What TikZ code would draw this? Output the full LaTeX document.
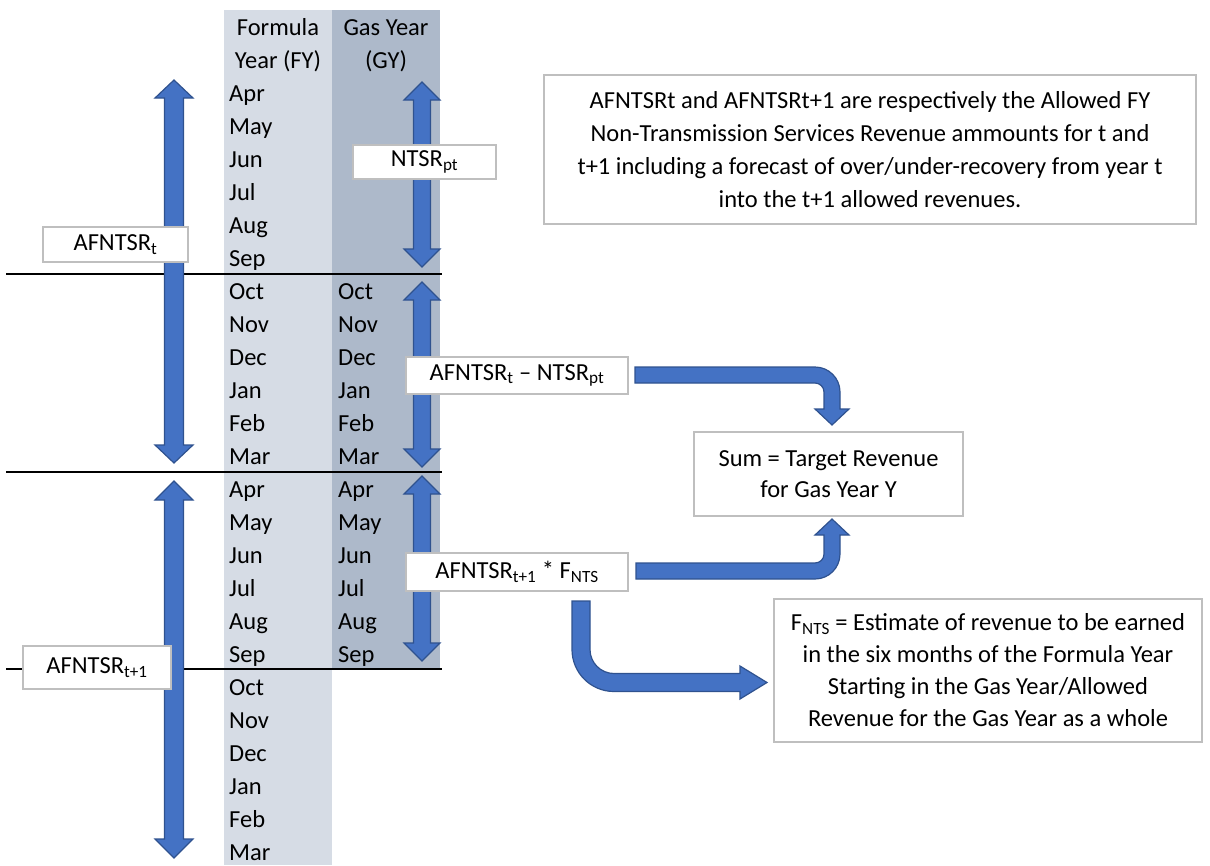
\documentclass[tikz,border=0pt]{standalone}
\usepackage{fontspec}
\setmainfont{Carlito}
\definecolor{fyc}{HTML}{D6DCE5}
\definecolor{gyc}{HTML}{ADB9CA}
\definecolor{arrowblue}{HTML}{4472C4}
\definecolor{arrowedge}{HTML}{2F528F}
\definecolor{boxgray}{HTML}{BFBFBF}
\tikzset{
  lbl/.style={font=\fontsize{24.5}{30}\selectfont, inner sep=0pt},
  month/.style={lbl, anchor=base west},
  box/.style={draw=boxgray, line width=1.5pt, fill=white, inner sep=0pt, align=center, font=\fontsize{24.5}{30}\selectfont},
  blockarrow/.style={fill=arrowblue, draw=arrowedge, line width=1.2pt, line join=miter},
  sepline/.style={line width=2pt, black}
}
\newcommand\vdarrow[6]{% x, top, bottom, shaft half, head half, head length
  \path[blockarrow] ({#1-#4},{#2+#6}) -- ({#1-#5},{#2+#6}) -- (#1,#2) -- ({#1+#5},{#2+#6}) -- ({#1+#4},{#2+#6})
    -- ({#1+#4},{#3-#6}) -- ({#1+#5},{#3-#6}) -- (#1,#3) -- ({#1-#5},{#3-#6}) -- ({#1-#4},{#3-#6}) -- cycle;}
\begin{document}
\begin{tikzpicture}[x=1pt,y=-1pt]
\useasboundingbox (0,0) rectangle (1210,865);
% columns
\fill[fyc] (224,10) rectangle (332,865);
\fill[gyc] (332,10) rectangle (440,669);
% headers
\node[lbl, anchor=base] (fyh1) at (278,35) {Formula};
\node[lbl, anchor=base] (fyh2) at (278,68) {Year (FY)};
\node[lbl, anchor=base] (gyh1) at (386,35) {Gas Year};
\node[lbl, anchor=base] (gyh2) at (386,68) {(GY)};
% months
\foreach \m [count=\i from 0] in {Apr,May,Jun,Jul,Aug,Sep,Oct,Nov,Dec,Jan,Feb,Mar,Apr,May,Jun,Jul,Aug,Sep,Oct,Nov,Dec,Jan,Feb,Mar}
  \node[month] (fy\i) at (229,{101+33*\i}) {\m};
\foreach \m [count=\i from 6] in {Oct,Nov,Dec,Jan,Feb,Mar,Apr,May,Jun,Jul,Aug,Sep}
  \node[month] (gy\i) at (338,{101+33*\i}) {\m};
% separator lines
\draw[sepline] (6,274) -- (442,274);
\draw[sepline] (6,472) -- (442,472);
\draw[sepline] (6,669) -- (442,669);
% vertical double arrows
\vdarrow{174}{80}{463}{9.5}{19}{18}
\vdarrow{174}{481}{858}{9.5}{19}{19}
\vdarrow{422}{82}{267}{8.5}{18}{18}
\vdarrow{422}{282}{467}{8.5}{18}{18}
\vdarrow{422}{476}{661}{8.5}{18}{18}
% bent arrows
\path[blockarrow] (635,367) -- (815,367) .. controls (828.8,367) and (840,378.2) .. (840,392)
  -- (840,409) -- (849,409) -- (832,425) -- (815,409) -- (824,409) -- (824,392)
  .. controls (824,387) and (820,383) .. (815,383) -- (635,383) -- cycle;
\path[blockarrow] (636,563) -- (815,563) .. controls (820,563) and (824,559) .. (824,554)
  -- (824,535) -- (815,535) -- (832,519) -- (849,535) -- (840,535) -- (840,554)
  .. controls (840,567.8) and (828.8,579) .. (815,579) -- (636,579) -- cycle;
\path[blockarrow] (572,601) -- (590,601) -- (590,649.5) .. controls (590,662.75) and (600.75,673.5) .. (614,673.5)
  -- (740,673.5) -- (740,666) -- (767,682.5) -- (740,699) -- (740,691.5) -- (614,691.5)
  .. controls (590.8,691.5) and (572,672.7) .. (572,649.5) -- cycle;
% boxes
\node[box, minimum width=145, minimum height=35] (afa) at (115.5,244.5) {AFNTSR\textsubscript{t}};
\node[box, minimum width=143, minimum height=34] (ntsr) at (424.5,162) {NTSR\textsubscript{pt}};
\node[box, minimum width=148, minimum height=43] (afb) at (97,667.5) {AFNTSR\textsubscript{t+1}};
\node[box, minimum width=222, minimum height=37] (diff) at (517,375.5) {AFNTSR\textsubscript{t} – NTSR\textsubscript{pt}};
\node[box, minimum width=222, minimum height=38] (prod) at (517,572) {AFNTSR\textsubscript{t+1} * F\textsubscript{NTS}};
\node[box, minimum width=269, minimum height=84, font=\fontsize{24.5}{31}\selectfont] (sum) at (828.5,474) {Sum = Target Revenue\\for Gas Year Y};
\node[box, minimum width=428, minimum height=143, font=\fontsize{24.5}{32}\selectfont] (fnts) at (988,670.5)
  {F\textsubscript{NTS} = Estimate of revenue to be earned\\in the six months of the Formula Year\\Starting in the Gas Year/Allowed\\Revenue for the Gas Year as a whole};
\node[box, minimum width=652, minimum height=149, font=\fontsize{24.5}{33}\selectfont] (note) at (870,149.5)
  {AFNTSRt and AFNTSRt+1 are respectively the Allowed FY\\Non-Transmission Services Revenue ammounts for t and\\t+1 including a forecast of over/under-recovery from year t\\into the t+1 allowed revenues.};
\end{tikzpicture}
\end{document}
